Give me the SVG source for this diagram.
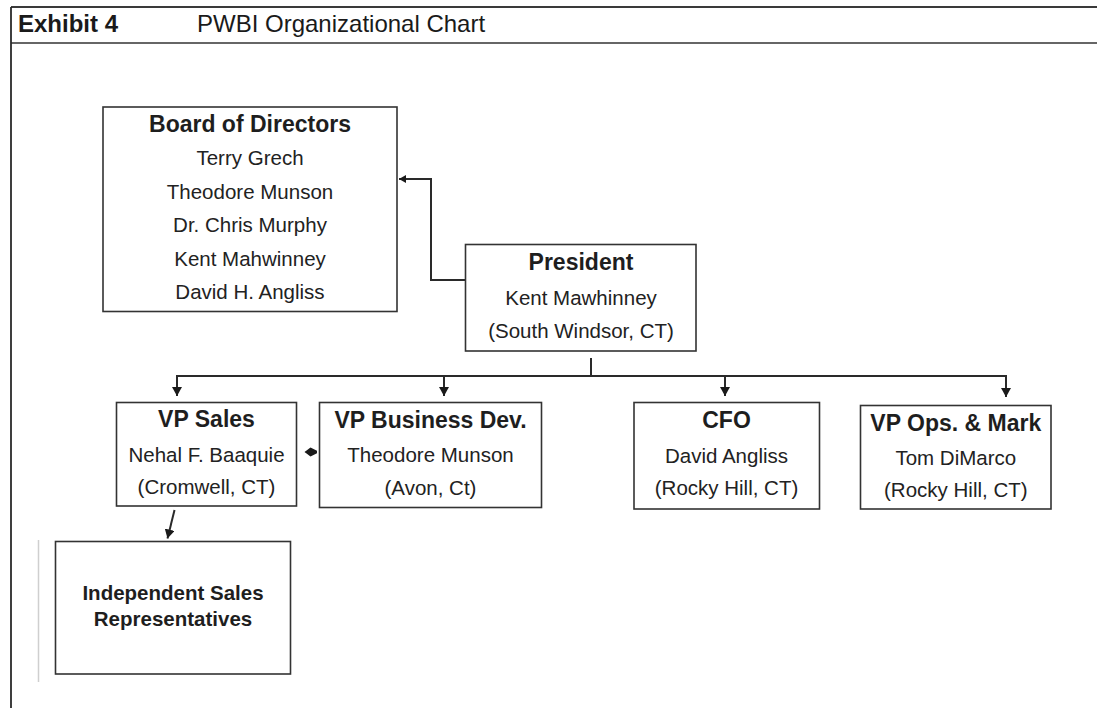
<svg xmlns="http://www.w3.org/2000/svg" width="1097" height="708" viewBox="0 0 1097 708">
  <style>
    .box { fill: #ffffff; stroke: #333333; stroke-width: 1.6; }
    .conn { fill: none; stroke: #2a2a2a; stroke-width: 2; }
    .hd { font-family: "Liberation Sans", Arial, sans-serif; font-weight: bold; font-size: 23px; fill: #1e1e1e; text-anchor: middle; }
    .tx { font-family: "Liberation Sans", Arial, sans-serif; font-size: 20.5px; fill: #222222; text-anchor: middle; }
    .isr { font-family: "Liberation Sans", Arial, sans-serif; font-weight: bold; font-size: 20.5px; fill: #1e1e1e; text-anchor: middle; }
    .title { font-family: "Liberation Sans", Arial, sans-serif; font-size: 24px; fill: #1a1a1a; }
  </style>
  <defs>
    <marker id="arrow" markerUnits="userSpaceOnUse" markerWidth="11" markerHeight="10" refX="9" refY="5" orient="auto">
      <path d="M0,0 L9,5 L0,10 z" fill="#1a1a1a"/>
    </marker>
    <marker id="arrowSmall" markerUnits="userSpaceOnUse" markerWidth="8" markerHeight="8" refX="7" refY="4" orient="auto">
      <path d="M0,0 L7,4 L0,8 z" fill="#1a1a1a"/>
    </marker>
  </defs>

  <rect x="0" y="0" width="1097" height="708" fill="#ffffff"/>

  <!-- page frame and heading -->
  <g id="frame">
    <line x1="11" y1="7" x2="1097" y2="7" stroke="#3a3a3a" stroke-width="1.8"/>
    <line x1="11" y1="43" x2="1097" y2="43" stroke="#666666" stroke-width="2"/>
    <line x1="11" y1="7" x2="11" y2="708" stroke="#2a2a2a" stroke-width="1.8"/>
    <text class="title" x="18" y="32" font-weight="bold">Exhibit 4</text>
    <text class="title" x="197" y="32">PWBI Organizational Chart</text>
    <line x1="38.5" y1="540" x2="38.5" y2="682" stroke="#cfcfcf" stroke-width="1.5"/>
  </g>

  <!-- connectors -->
  <g id="connectors">
    <!-- President to Board of Directors -->
    <polyline class="conn" points="465,280 431,280 431,179 399,179" marker-end="url(#arrowSmall)"/>
    <!-- President stem and branch -->
    <line class="conn" x1="591" y1="358" x2="591" y2="376"/>
    <line class="conn" x1="176.5" y1="376" x2="1006" y2="376"/>
    <line class="conn" x1="177" y1="375" x2="177" y2="396" marker-end="url(#arrow)"/>
    <line class="conn" x1="444" y1="375" x2="444" y2="396" marker-end="url(#arrow)"/>
    <line class="conn" x1="725" y1="375" x2="725" y2="396" marker-end="url(#arrow)"/>
    <line class="conn" x1="1006" y1="375" x2="1006" y2="397" marker-end="url(#arrow)"/>
    <!-- VP Sales to Independent Sales Representatives -->
    <line class="conn" x1="174.5" y1="510" x2="167.5" y2="538.5" marker-end="url(#arrow)"/>
    <!-- VP Sales / VP Business Dev. link -->
    <polygon points="304.5,452 310.5,447.5 317,450.8 317,453.2 310.5,456.5" fill="#1a1a1a"/>
  </g>

  <g id="board">
    <rect class="box" x="103" y="107" width="294" height="204.5"/>
    <text class="hd" x="250" y="131.5">Board of Directors</text>
    <text class="tx" x="250" y="165">Terry Grech</text>
    <text class="tx" x="250" y="198.5">Theodore Munson</text>
    <text class="tx" x="250" y="232">Dr. Chris Murphy</text>
    <text class="tx" x="250" y="265.5">Kent Mahwinney</text>
    <text class="tx" x="250" y="298.5">David H. Angliss</text>
  </g>

  <g id="president">
    <rect class="box" x="465.5" y="244.5" width="230.5" height="106.5"/>
    <text class="hd" x="581" y="269.5">President</text>
    <text class="tx" x="581" y="305">Kent Mawhinney</text>
    <text class="tx" x="581" y="337.5">(South Windsor, CT)</text>
  </g>

  <g id="vp-sales">
    <rect class="box" x="116.5" y="402.5" width="180" height="103.5"/>
    <text class="hd" x="206.5" y="427">VP Sales</text>
    <text class="tx" x="206.5" y="461.5">Nehal F. Baaquie</text>
    <text class="tx" x="206.5" y="494">(Cromwell, CT)</text>
  </g>

  <g id="vp-business-dev">
    <rect class="box" x="319.5" y="402.5" width="222" height="105"/>
    <text class="hd" x="430.5" y="427.5">VP Business Dev.</text>
    <text class="tx" x="430.5" y="461.5">Theodore Munson</text>
    <text class="tx" x="430.5" y="494.5">(Avon, Ct)</text>
  </g>

  <g id="cfo">
    <rect class="box" x="634" y="402.5" width="185.5" height="106.5"/>
    <text class="hd" x="726.5" y="428">CFO</text>
    <text class="tx" x="726.5" y="462.5">David Angliss</text>
    <text class="tx" x="726.5" y="495">(Rocky Hill, CT)</text>
  </g>

  <g id="vp-ops">
    <rect class="box" x="860.5" y="405.5" width="190.5" height="103.5"/>
    <text class="hd" x="955.8" y="430.5">VP Ops. &amp; Mark</text>
    <text class="tx" x="955.8" y="464.5">Tom DiMarco</text>
    <text class="tx" x="955.8" y="497">(Rocky Hill, CT)</text>
  </g>

  <g id="sales-reps">
    <rect class="box" x="55.5" y="541.5" width="235" height="132.5"/>
    <text class="isr" x="173" y="600">Independent Sales</text>
    <text class="isr" x="173" y="625.5">Representatives</text>
  </g>
</svg>
